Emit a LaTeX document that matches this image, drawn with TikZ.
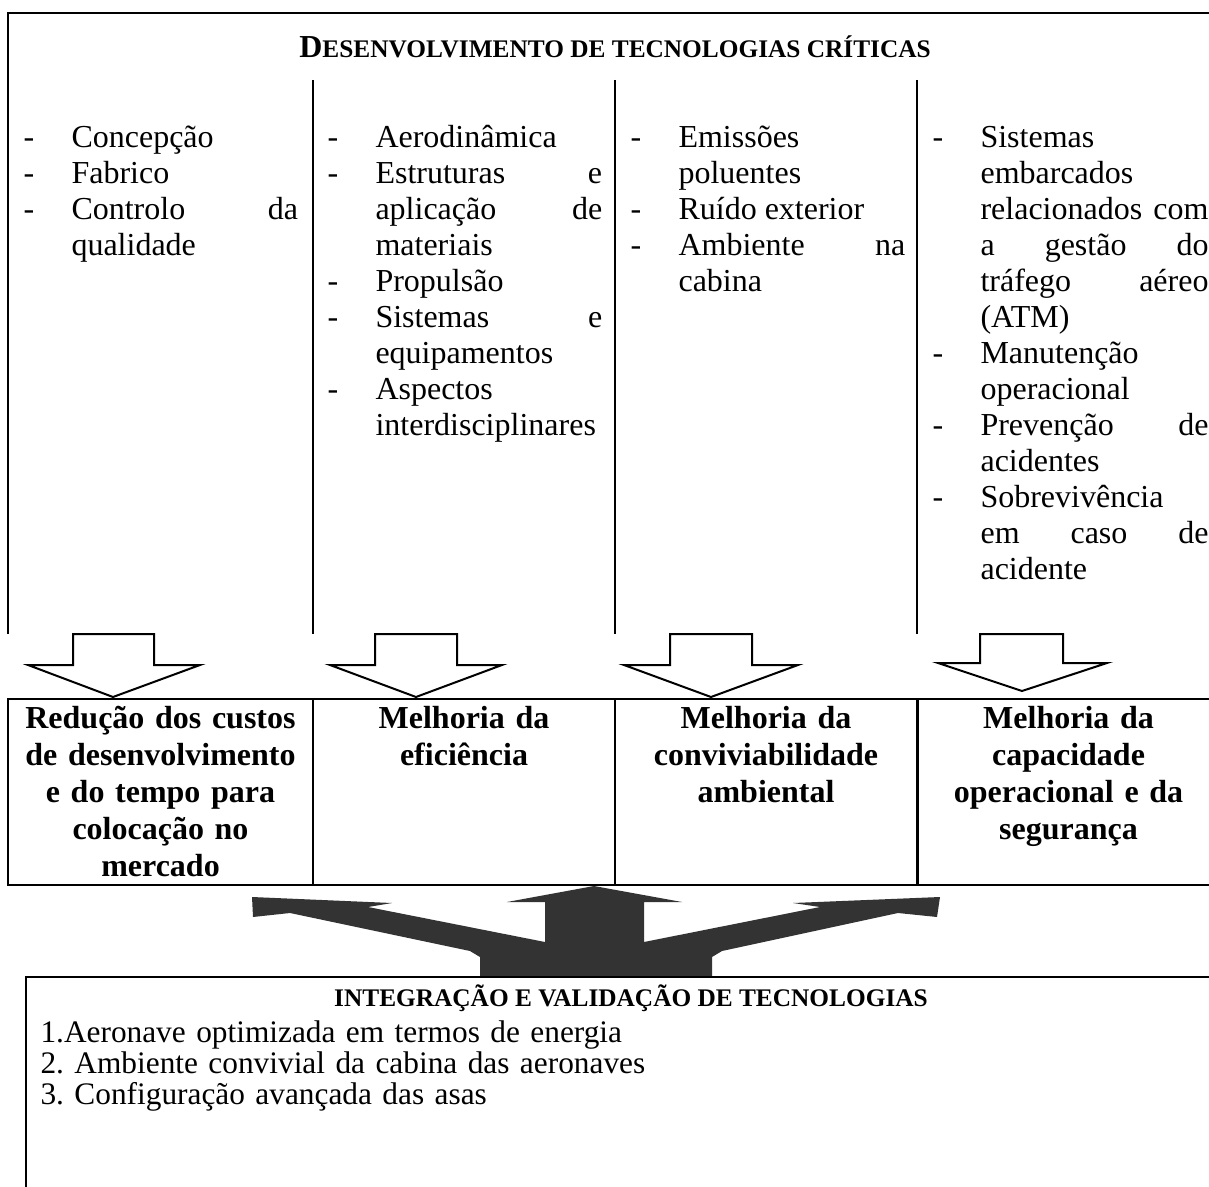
\documentclass[tikz,border=0pt]{standalone}
\usepackage{fontspec}
\setmainfont{Liberation Serif}
\usepackage{tikz}
\usetikzlibrary{positioning}

\newcommand{\dashitem}[1]{\noindent\llap{\hbox to 18pt{-\hfil}}#1\par}

\begin{document}
\begin{tikzpicture}[
  x=0.375pt, y=-0.375pt,
  every node/.style={font=\fontsize{12pt}{13.5pt}\selectfont, inner sep=0pt},
  frame/.style={line width=0.75pt},
  itemcol/.style={anchor=base west, text width=103pt, align=justify,
    execute at begin node={\leftskip=18pt\tolerance=10000\hyphenpenalty=10000}},
  goal/.style={rectangle, draw, line width=0.75pt, minimum height=69.75pt},
  goaltxt/.style={font=\fontsize{12pt}{13.875pt}\selectfont\bfseries,
    text width=112pt, align=center, anchor=base},
  hollow/.style={draw, line width=0.75pt, fill=white},
  bigarrow/.style={fill=black!80},
]
\useasboundingbox (0,0) rectangle (1209,1187);

% === Top frame: critical technologies ===
\draw[frame] (1225,13) -- (8,13) -- (8,634);
\node[anchor=base] (devtitle) at (615,58)
  {\bfseries D\fontsize{9.5pt}{11pt}\selectfont ESENVOLVIMENTO DE TECNOLOGIAS CRÍTICAS};

\draw[frame] (313,80) -- (313,634);
\draw[frame] (615,80) -- (615,634);
\draw[frame] (917,80) -- (917,634);

\node[itemcol] (fabr) at (23,148) {%
  \dashitem{Concepção}
  \dashitem{Fabrico}
  \dashitem{Controlo da\linebreak qualidade}};

\node[itemcol] (aero) at (327,148) {%
  \dashitem{Aerodinâmica}
  \dashitem{Estruturas e\linebreak aplicação de\linebreak materiais}
  \dashitem{Propulsão}
  \dashitem{Sistemas e\linebreak equipamentos}
  \dashitem{Aspectos\linebreak interdisciplinares}};

\node[itemcol] (envir) at (630,148) {%
  \dashitem{Emissões\linebreak poluentes}
  \dashitem{Ruído exterior}
  \dashitem{Ambiente na\linebreak cabina}};

\node[itemcol, text width=103.5pt] (safety) at (932,148) {%
  \dashitem{Sistemas\linebreak embarcados\linebreak relacionados com\linebreak a gestão do\linebreak tráfego aéreo\linebreak (ATM)}
  \dashitem{Manutenção\linebreak operacional}
  \dashitem{Prevenção de\linebreak acidentes}
  \dashitem{Sobrevivência\linebreak em caso de\linebreak acidente}};

% === Hollow arrows down to the goals ===
\draw[hollow] (73,634) -- (154,634) -- (154,665) -- (200,665) -- (113,697) -- (28,665) -- (73,665) -- cycle;
\draw[hollow] (375,634) -- (457,634) -- (457,665) -- (502,665) -- (416,697) -- (330,665) -- (375,665) -- cycle;
\draw[hollow] (670,634) -- (752,634) -- (752,665) -- (798,665) -- (711,697) -- (624,665) -- (670,665) -- cycle;
\draw[hollow] (980,634) -- (1063,634) -- (1063,663) -- (1107,663) -- (1022,691) -- (938,663) -- (980,663) -- cycle;

% === Goal boxes ===
\node[goal, minimum width=114.4pt] (redcost) at (160.5,792) {};
\node[goal, minimum width=113.25pt] (effic) at (464,792) {};
\node[goal, minimum width=113.25pt] (convenv) at (766,792) {};
\node[goal, minimum width=112.9pt] (opsafe) at (1068.5,792) {};

\node[goaltxt] (redcosttxt) at ([yshift=-11.25pt]redcost.north)
  {Redução dos custos\\de desenvolvimento\\e do tempo para\\colocação no\\mercado};
\node[goaltxt] (effictxt) at ([yshift=-11.25pt]effic.north)
  {Melhoria da\\eficiência};
\node[goaltxt] (convenvtxt) at ([yshift=-11.25pt]convenv.north)
  {Melhoria da\\conviviabilidade\\ambiental};
\node[goaltxt] (opsafetxt) at ([yshift=-11.25pt]opsafe.north)
  {Melhoria da\\capacidade\\operacional e da\\segurança};

% === Three-way arrow from integration ===
\fill[bigarrow] (594,886) -- (682,902) -- (644,902) -- (644,942) -- (820,907) -- (793,903)
  -- (940,897) -- (937,917) -- (898,913) -- (722,951) -- (712,957) -- (712,977)
  -- (480,977) -- (480,957) -- (470,951) -- (290,913) -- (253,917) -- (252,897)
  -- (392,903) -- (368,907) -- (545,942) -- (545,902) -- (507,902) -- cycle;

% === Bottom frame: integration and validation ===
\draw[frame] (1240,977) -- (25.7,977) -- (25.7,1195);
\node[anchor=base] (integtitle) at (631,1006)
  {\fontsize{9.5pt}{11pt}\selectfont\bfseries INTEGRAÇÃO E VALIDAÇÃO DE TECNOLOGIAS};
\node[anchor=base west, text width=300pt, align=left,
  font=\fontsize{11.75pt}{11.8pt}\selectfont\frenchspacing] (integlist) at (40,1042)
  {1.Aeronave optimizada em termos de energia\\
   2. Ambiente convivial da cabina das aeronaves\\
   3. Configuração avançada das asas};

\end{tikzpicture}
\end{document}
